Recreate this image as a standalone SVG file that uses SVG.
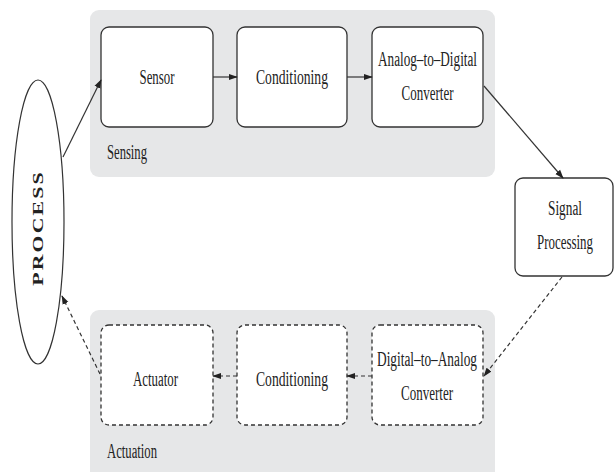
<svg xmlns="http://www.w3.org/2000/svg" width="615" height="472" viewBox="0 0 615 472">
<style>
.panel{fill:#e6e7e8;stroke:none}
.box{fill:#fff;stroke:#333;stroke-width:1.3}
.dbox{fill:#fff;stroke:#333;stroke-width:1.3;stroke-dasharray:4 3}
.t{font-family:"Liberation Serif","Times New Roman",serif;font-size:20px;fill:#222;text-anchor:middle}
.lbl{font-family:"Liberation Serif","Times New Roman",serif;font-size:20px;fill:#222}
.c{stroke:#333;stroke-width:1.2;fill:none}
.d{stroke:#333;stroke-width:1.2;fill:none;stroke-dasharray:4 3}
</style>
<defs>
<marker id="ah" viewBox="0 0 10 10" refX="9" refY="5" markerWidth="9" markerHeight="9" markerUnits="userSpaceOnUse" orient="auto">
<path d="M0,1.5 L10,5 L0,8.5 Z" fill="#222"/>
</marker>
</defs>
<rect width="615" height="472" fill="#fff"/>
<g id="sensing-panel">
<rect class="panel" x="90" y="10" width="405" height="167" rx="9"/>
<text class="lbl" x="107" y="159" textLength="40" lengthAdjust="spacingAndGlyphs">Sensing</text>
</g>
<g id="actuation-panel">
<rect class="panel" x="90" y="310" width="405" height="170" rx="9"/>
<text class="lbl" x="107" y="458" textLength="50" lengthAdjust="spacingAndGlyphs">Actuation</text>
</g>
<g id="process">
<ellipse cx="38" cy="222" rx="26" ry="142" fill="#fff" stroke="#333" stroke-width="1.2"/>
<text transform="translate(43 228) rotate(-90) scale(1.45 1)" x="0" y="0" style="font-family:'Liberation Serif','Times New Roman',serif;font-size:15px;font-weight:bold;fill:#222;text-anchor:middle;letter-spacing:1.5px">PROCESS</text>
</g>
<g id="sensor">
<rect class="box" x="101" y="27" width="112" height="100" rx="8"/>
<text class="t" x="157" y="84" textLength="35" lengthAdjust="spacingAndGlyphs">Sensor</text>
</g>
<g id="conditioning-s">
<rect class="box" x="237" y="27" width="110" height="100" rx="8"/>
<text class="t" x="292" y="84" textLength="72" lengthAdjust="spacingAndGlyphs">Conditioning</text>
</g>
<g id="adc">
<rect class="box" x="372" y="27" width="111" height="100" rx="8"/>
<text class="t" x="427.5" y="66" textLength="99" lengthAdjust="spacingAndGlyphs">Analog–to–Digital</text>
<text class="t" x="427.5" y="100" textLength="52" lengthAdjust="spacingAndGlyphs">Converter</text>
</g>
<g id="signal-processing">
<rect class="box" x="515" y="178" width="98" height="98" rx="8"/>
<text class="t" x="565" y="215" textLength="34" lengthAdjust="spacingAndGlyphs">Signal</text>
<text class="t" transform="translate(565 249) scale(0.646 1)" x="0" y="0">Processing</text>
</g>
<g id="dac">
<rect class="dbox" x="372" y="325" width="111" height="100" rx="8"/>
<text class="t" x="427" y="366" textLength="100" lengthAdjust="spacingAndGlyphs">Digital–to–Analog</text>
<text class="t" x="427" y="400" textLength="52" lengthAdjust="spacingAndGlyphs">Converter</text>
</g>
<g id="conditioning-a">
<rect class="dbox" x="237" y="325" width="110" height="100" rx="8"/>
<text class="t" x="292" y="386" textLength="72" lengthAdjust="spacingAndGlyphs">Conditioning</text>
</g>
<g id="actuator">
<rect class="dbox" x="101" y="325" width="112" height="100" rx="8"/>
<text class="t" x="155.5" y="386" textLength="45" lengthAdjust="spacingAndGlyphs">Actuator</text>
</g>
<g id="connectors">
<line class="c" x1="63" y1="157" x2="101" y2="80" marker-end="url(#ah)"/>
<line class="c" x1="213" y1="77" x2="237" y2="77" marker-end="url(#ah)"/>
<line class="c" x1="347" y1="77" x2="372" y2="77" marker-end="url(#ah)"/>
<line class="c" x1="484" y1="86" x2="563" y2="178" marker-end="url(#ah)"/>
<line class="d" x1="562" y1="277" x2="484" y2="376" marker-end="url(#ah)"/>
<line class="d" x1="372" y1="376" x2="347" y2="376" marker-end="url(#ah)"/>
<line class="d" x1="237" y1="376" x2="213" y2="376" marker-end="url(#ah)"/>
<line class="d" x1="100" y1="374" x2="62" y2="296" marker-end="url(#ah)"/>
</g>
</svg>
